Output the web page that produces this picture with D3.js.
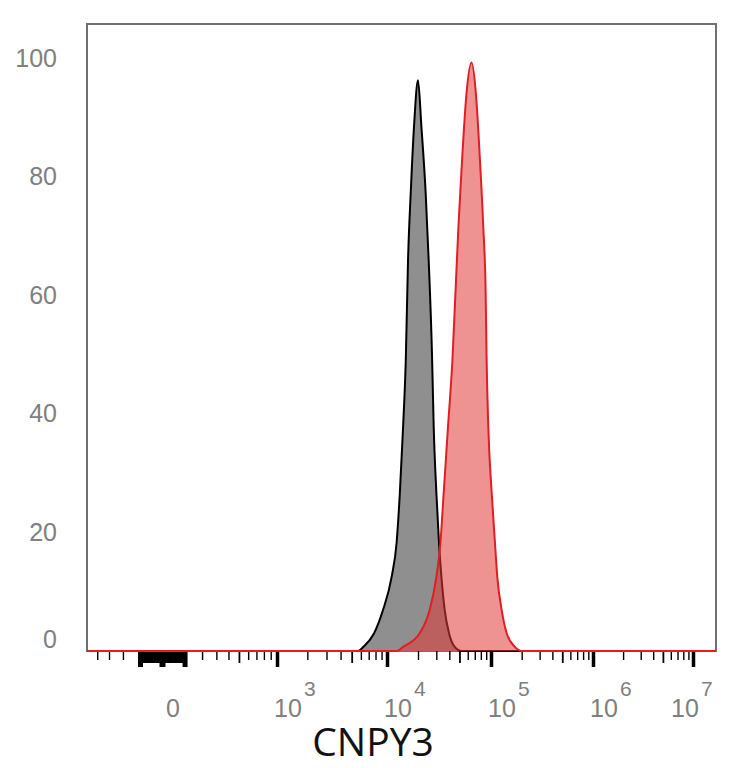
<!DOCTYPE html>
<html>
<head>
<meta charset="utf-8">
<script src="https://cdn.jsdelivr.net/npm/d3@7"></script>
<style>
  body { margin: 0; background: #fff; }
  svg { display: block; }
</style>
</head>
<body>
<div id="chart"></div>
<script>
// isotype control (grey) and CNPY3 stain (red), fluorescence intensity vs % of max
const isotypeX = [-500, 5690, 6310, 7780, 9250, 11100, 12400, 13340, 14350, 15240, 16020, 17010, 18300, 20000,
  21570, 23710, 25340, 27280, 28320, 30060, 31840, 33580, 36130, 39720, 45070, 52500, 1.7e7];
const isotypeY = [0, 0, 0.7, 3.0, 6.9, 12.5, 18.2, 26.6, 37.8, 49.1, 65.9, 77.2, 88.4, 96.2,
  88.4, 77.2, 65.9, 50.0, 37.8, 26.6, 18.2, 12.5, 6.9, 3.0, 0.7, 0, 0];
const cnpy3X = [-500, 12500, 14350, 20750, 25900, 30060, 32840, 35300, 38840, 42820, 45780, 48900, 52950, 58370, 65190,
  71740, 78420, 84330, 88950, 90570, 94250, 101600, 109400, 115300, 127300, 142500, 171700, 200000, 1.7e7];
const cnpy3Y = [0, 0, 0.7, 3.0, 6.9, 12.5, 18.2, 26.6, 37.8, 49.1, 60.4, 71.6, 82.8, 94.0, 99.2,
  94.0, 82.8, 71.6, 60.4, 50.3, 37.8, 26.6, 18.2, 12.5, 6.9, 3.0, 0.7, 0, 0];
const yTicks = [0, 20, 40, 60, 80, 100];
const xDecades = [3, 4, 5, 6, 7];
const xTitle = "CNPY3";

const width = 734, height = 768;
const box = { left: 87, top: 24, right: 716, bottom: 651 };

const svg = d3.select("#chart").append("svg")
  .attr("width", width)
  .attr("height", height);

// biexponential-like display: symlog with piecewise knots at 0 and each decade
const x = d3.scaleSymlog().constant(300)
  .domain([-500, 0, 1e3, 1e4, 1e5, 1e6, 1e7, 1.7e7])
  .range([box.left, 162, 277, 387, 491, 593, 693, box.right]);
const y = d3.scaleLinear().domain([0, 105.7]).range([box.bottom, box.top]);

// frame
svg.append("rect")
  .attr("x", box.left)
  .attr("y", box.top)
  .attr("width", box.right - box.left)
  .attr("height", box.bottom - box.top)
  .attr("fill", "none")
  .attr("stroke", "#707070")
  .attr("stroke-width", 2);

// y labels (no tick marks), the 0 label nudged up inside
svg.append("g").selectAll("text")
  .data(yTicks)
  .join("text")
  .attr("x", 57)
  .attr("y", d => d === 0 ? y(0) - 12 : y(d))
  .attr("dy", "0.35em")
  .attr("text-anchor", "end")
  .attr("font-family", "Liberation Sans, Arial, sans-serif")
  .attr("font-size", 25)
  .attr("fill", "#808080")
  .text(d => d);

// x ticks
const nearZero = d3.range(-90, 100, 10).filter(v => v !== 0);
const smallTicks = [-400, -300, -200, 200, 300, 400, 600, 700, 800, 900];
xDecades.slice(0, -1).forEach(k => {
  [2, 3, 4, 6, 7, 8, 9].forEach(m => smallTicks.push(m * Math.pow(10, k)));
});
const midTicks = [500];
xDecades.slice(0, -1).forEach(k => midTicks.push(5 * Math.pow(10, k)));
const majorTicks = [0].concat(xDecades.map(k => Math.pow(10, k)));

function tickRow(values, len, w) {
  const g = svg.append("g")
    .attr("transform", "translate(0," + box.bottom + ")")
    .call(d3.axisBottom(x).tickValues(values).tickSize(len).tickFormat(""));
  g.select(".domain").remove();
  g.selectAll(".tick line").attr("stroke", "#000").attr("stroke-width", w);
  return g;
}
tickRow(smallTicks, 9, 1.4);
tickRow(midTicks, 12, 1.8);
tickRow(nearZero, 12, 3);
tickRow([-100, 100], 16, 5);
tickRow(majorTicks, 16, 3.5);
tickRow([0], 16, 6);

// x tick labels
const lab = svg.append("g")
  .attr("font-family", "Liberation Sans, Arial, sans-serif")
  .attr("fill", "#808080");
lab.append("text")
  .attr("x", x(0) + 4)
  .attr("y", 717)
  .attr("font-size", 25)
  .text("0");
xDecades.forEach(k => {
  const x0 = Math.min(x(Math.pow(10, k)) - 3, box.right - 45);
  lab.append("text")
    .attr("x", x0)
    .attr("y", 717)
    .attr("font-size", 25)
    .text("10");
  lab.append("text")
    .attr("x", x0 + 30)
    .attr("y", 696)
    .attr("font-size", 21)
    .text(k);
});

// axis title
svg.append("text")
  .attr("x", 373)
  .attr("y", 756)
  .attr("text-anchor", "middle")
  .attr("font-family", "Open Sans, Noto Sans, sans-serif")
  .attr("font-size", 39)
  .attr("fill", "#111")
  .text(xTitle);

// histograms
const isotype = isotypeX.map((v, i) => ({ v: v, c: isotypeY[i] }));
const cnpy3 = cnpy3X.map((v, i) => ({ v: v, c: cnpy3Y[i] }));

const area = d3.area()
  .x(d => x(d.v))
  .y0(y(0))
  .y1(d => y(d.c))
  .curve(d3.curveMonotoneX);
const line = d3.line()
  .x(d => x(d.v))
  .y(d => y(d.c))
  .curve(d3.curveMonotoneX);

svg.append("path")
  .datum(isotype)
  .attr("d", area)
  .attr("fill", "#8f8f8f");
svg.append("path")
  .datum(isotype)
  .attr("d", line)
  .attr("fill", "none")
  .attr("stroke", "#000")
  .attr("stroke-width", 2);

svg.append("path")
  .datum(cnpy3)
  .attr("d", area)
  .attr("fill", "rgba(224,57,57,0.55)");
svg.append("path")
  .datum(cnpy3)
  .attr("d", line)
  .attr("fill", "none")
  .attr("stroke", "#e01e24")
  .attr("stroke-width", 2);
</script>
</body>
</html>
